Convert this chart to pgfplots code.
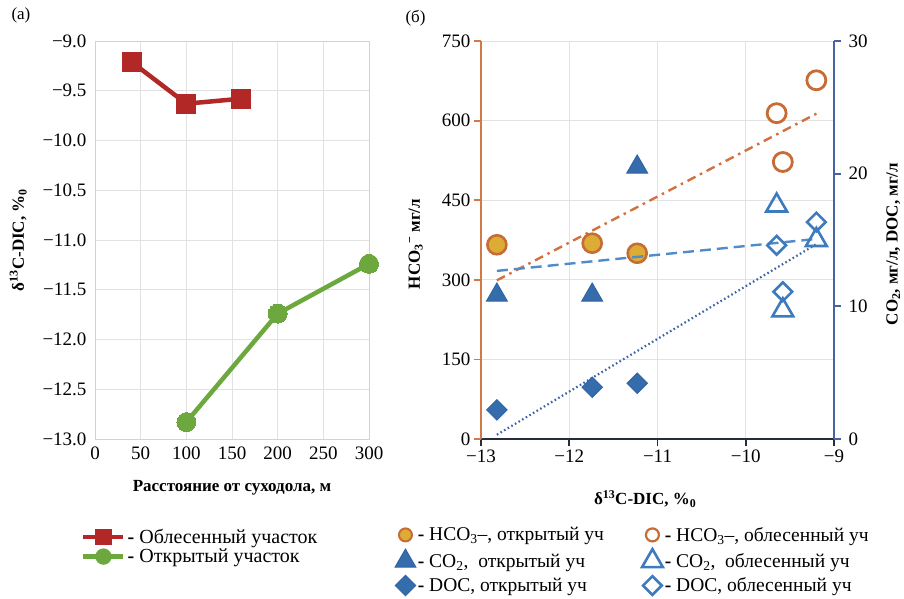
\documentclass[border=0pt]{standalone}
\usepackage{fontspec}
\setmainfont{Liberation Serif}
\usepackage{pgfplots}
\pgfplotsset{compat=1.18}
\definecolor{redS}{RGB}{178,40,38}
\definecolor{greenS}{RGB}{108,168,62}
\definecolor{orgE}{RGB}{198,108,52}
\definecolor{gold}{RGB}{220,172,52}
\definecolor{blueF}{RGB}{52,108,172}
\definecolor{blueE}{RGB}{50,100,165}
\definecolor{blueO}{RGB}{62,122,190}
\definecolor{orgAx}{RGB}{208,122,72}
\definecolor{blueAx}{RGB}{72,100,160}
\definecolor{darkAx}{RGB}{40,45,62}
\definecolor{trendO}{RGB}{210,112,62}
\definecolor{trendB}{RGB}{82,140,200}
\definecolor{trendD}{RGB}{62,100,168}
\definecolor{gridc}{RGB}{226,226,226}
\begin{document}
\begin{tikzpicture}
\path[use as bounding box] (0pt,0pt) rectangle (904pt,598pt);
\node[anchor=west,font=\fontsize{17}{18}\selectfont] at (8pt,583pt) {(a)};
\node[anchor=west,font=\fontsize{17}{18}\selectfont] at (402pt,580pt) {(б)};
% ---------------- panel (a)
\begin{axis}[at={(95pt,159pt)},anchor=south west,scale only axis,
  width=274pt,height=398pt,
  xmin=0,xmax=300,ymin=-13,ymax=-9,
  xtick={0,50,...,300},
  ytick={-13,-12.5,-12,-11.5,-11,-10.5,-10,-9.5,-9},
  yticklabels={−13.0,−12.5,−12.0,−11.5,−11.0,−10.5,−10.0,−9.5,−9.0},
  /pgf/number format/assume math mode=true,
  grid=major,grid style={gridc,line width=1pt},
  axis line style={gray!35,line width=1pt},
  major tick length=0pt,
  ticklabel style={font=\fontsize{19}{20}\selectfont},
  yticklabel style={xshift=-5pt},
  xticklabel style={yshift=-4pt},
  xlabel={\textbf{Расстояние от суходола, м}},
  ylabel={\textbf{δ\textsuperscript{13}C-DIC, \%\textsubscript{0}}},
  label style={font=\fontsize{17}{18}\selectfont},
  xlabel style={at={(axis description cs:0.5,-0.095)},anchor=north},
  ylabel style={at={(axis description cs:-0.28,0.5)},anchor=center},
  legend style={draw=none,fill=none,at={(axis description cs:-0.051,-0.221)},anchor=north west,
    font=\fontsize{20}{21}\selectfont,cells={anchor=west},row sep=0pt,inner sep=0pt},
  legend image code/.code={\draw[mark repeat=2,mark phase=2,mark options={scale=0.62}]
     plot coordinates {(0pt,0pt) (20pt,0pt) (40pt,0pt)};},
]
\addplot[redS,line width=4.5pt,mark=square*,mark size=9.5pt,mark options={solid,line width=0pt}]
  coordinates {(40,-9.21) (100,-9.63) (160,-9.58)};
\addlegendentry{\textbf{-} Облесенный участок}
\addplot[greenS,line width=4.5pt,mark=*,mark size=9.5pt,mark options={solid,line width=0pt}]
  coordinates {(100,-12.83) (200,-11.74) (300,-11.24)};
\addlegendentry{\textbf{-} Открытый участок}
\end{axis}
% ---------------- panel (b), left axis
\begin{axis}[at={(481pt,159pt)},anchor=south west,scale only axis,
  width=353pt,height=398pt,
  xmin=-13,xmax=-9,ymin=0,ymax=750,
  xtick={-13,-12,-11,-10,-9},
  xticklabels={−13,−12,−11,−10,−9},
  ytick={0,150,300,450,600,750},
  /pgf/number format/assume math mode=true,
  axis x line*=bottom,axis y line*=left,
  x axis line style={darkAx,line width=1.8pt,-},
  y axis line style={orgAx,line width=1.8pt,-},
  xtick style={darkAx,line width=1.8pt},
  ytick style={orgAx,line width=1.8pt},
  tick align=outside,major tick length=7pt,
  grid=major,grid style={gridc,line width=1pt},
  ticklabel style={font=\fontsize{19}{20}\selectfont},
  xlabel={\textbf{δ\textsuperscript{13}C-DIC, \%\textsubscript{0}}},
  ylabel={\textbf{HCO\textsubscript{3}\textsuperscript{−} мг/л}},
  label style={font=\fontsize{17}{18}\selectfont},
  xlabel style={at={(axis description cs:0.465,-0.12)},anchor=north},
  ylabel style={at={(axis description cs:-0.185,0.49)},anchor=center},
  clip=false,
]
\addplot[trendO,line width=2.4pt,dash pattern=on 9pt off 5pt on 2.5pt off 5pt] coordinates {(-12.82,299) (-9.2,613)};
\addplot[only marks,mark=*,mark size=9.5pt,draw=orgE,fill=gold,line width=2.6pt]
  coordinates {(-12.82,366) (-11.74,369) (-11.23,350)};
\addplot[only marks,mark=*,mark size=9.5pt,draw=orgE,fill=white,line width=2.8pt]
  coordinates {(-9.65,614) (-9.58,522) (-9.20,676)};
\end{axis}
% ---------------- panel (b), right axis
\begin{axis}[at={(481pt,159pt)},anchor=south west,scale only axis,
  width=353pt,height=398pt,
  xmin=-13,xmax=-9,ymin=0,ymax=30,
  ytick={0,10,20,30},
  /pgf/number format/assume math mode=true,
  axis x line=none,axis y line*=right,
  y axis line style={blueAx,line width=1.8pt,-},
  ytick style={blueAx,line width=1.8pt},
  tick align=outside,major tick length=7pt,
  ticklabel style={font=\fontsize{19}{20}\selectfont},
  yticklabel style={xshift=4pt},
  ylabel={\textbf{CO\textsubscript{2},\ мг/л, DOC,\ мг/л}},
  label style={font=\fontsize{17}{18}\selectfont},
  ylabel style={at={(axis description cs:1.168,0.49)},anchor=center,rotate=0},
  clip=false,
  legend columns=2,
  legend style={draw=none,fill=none,at={(axis description cs:-0.244,-0.216)},anchor=north west,
    font=\fontsize{19.5}{20}\selectfont,cells={anchor=west},row sep=4.5pt,inner sep=0pt,
    /tikz/every even column/.append style={column sep=36pt}},
]
\addlegendimage{only marks,mark=*,mark size=6.5pt,draw=orgE,fill=gold,line width=2pt}
\addlegendentry{\textbf{-} HCO\textsubscript{3}–, открытый уч}
\addlegendimage{only marks,mark=*,mark size=6.5pt,draw=orgE,fill=white,line width=2.2pt}
\addlegendentry{\textbf{-} HCO\textsubscript{3}–, облесенный уч}
\addplot[trendB,line width=2.4pt,dash pattern=on 11pt off 6pt,forget plot] coordinates {(-12.82,12.67) (-9.2,15.08)};
\addplot[trendD,line width=2.2pt,dash pattern=on 1.6pt off 2.6pt,forget plot] coordinates {(-12.82,0.32) (-9.2,14.69)};
\addplot[only marks,mark=triangle*,mark size=12pt,draw=blueE,fill=blueF,line width=1pt]
  coordinates {(-12.82,10.85) (-11.74,10.85) (-11.23,20.5)};
\addlegendentry{\textbf{-} CO\textsubscript{2},\ \ открытый уч}
\addplot[only marks,mark=triangle,mark size=12pt,draw=blueO,line width=2.6pt]
  coordinates {(-9.65,17.6) (-9.58,9.7) (-9.20,15.0)};
\addlegendentry{\textbf{-} CO\textsubscript{2},\ \ облесенный уч}
\addplot[only marks,mark=square*,mark size=7.2pt,mark options={rotate=45},draw=blueE,fill=blueF,line width=1pt]
  coordinates {(-12.82,2.19) (-11.74,3.9) (-11.23,4.2)};
\addlegendentry{\textbf{-} DOC, открытый уч}
\addplot[only marks,mark=square,mark size=6.6pt,mark options={rotate=45},draw=blueO,line width=2.6pt]
  coordinates {(-9.65,14.6) (-9.58,11.1) (-9.20,16.35)};
\addlegendentry{\textbf{-} DOC, облесенный уч}
\end{axis}
\end{tikzpicture}
\end{document}
